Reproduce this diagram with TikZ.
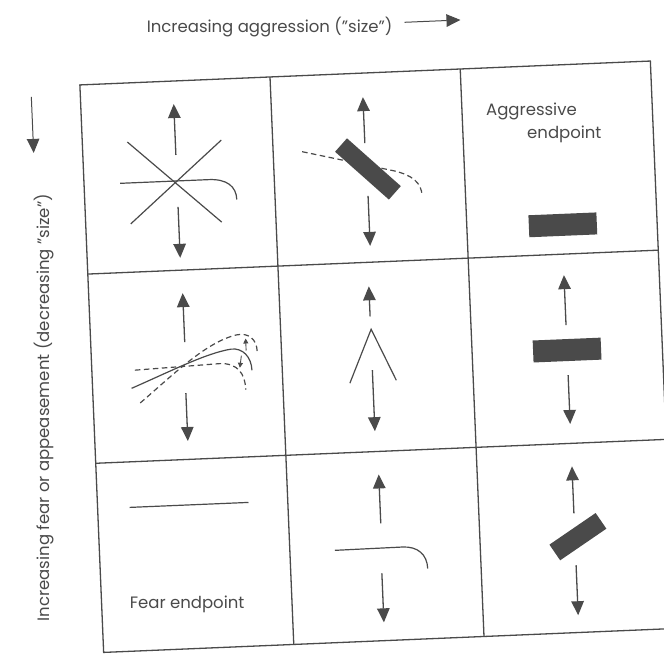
\documentclass[tikz,border=0pt]{standalone}
\usepackage{fontspec}
\setmainfont{Poppins}
\usetikzlibrary{arrows.meta}
\definecolor{ink}{HTML}{4A4A4A}
\begin{document}
\begin{tikzpicture}[x=1pt,y=-1pt,
  frame/.style={draw=ink, line width=1.3pt},
  stroke/.style={draw=ink, line width=1.2pt},
  dashline/.style={stroke, dash pattern=on 5.5pt off 3.5pt},
  bigarrow/.style={draw=ink, line width=1.3pt, -{Triangle[length=14pt,width=12.5pt]}},
  smallarrow/.style={draw=ink, line width=0.9pt, -{Triangle[length=5pt,width=5pt]}},
  block/.style={fill=ink},
  caption/.style={text=ink, inner sep=0pt, font=\fontsize{16.5}{20}\selectfont}]
\useasboundingbox (0,0) rectangle (664,657);
\clip (0,0) rectangle (664,657);
\begin{scope}[rotate around={2.4:(370,345)}]
  % axis captions
  \node[caption] (xlabel) at (283,23) {Increasing aggression ("size")};
  \coordinate (xa0) at (418,24);
  \coordinate (xa1) at (474,24);
  \draw[bigarrow, line width=1pt] (xa0) -- (xa1);
  \node[caption, rotate=90] (ylabel) at (42,394) {Increasing fear or appeasement (decreasing "size")};
  \coordinate (ya0) at (42,83);
  \coordinate (ya1) at (42,139);
  \draw[bigarrow, line width=1pt] (ya0) -- (ya1);

  % 3x3 grid
  \draw[frame] (91,73) rectangle (662,641);
  \draw[frame] (281.3,73) -- (281.3,641);
  \draw[frame] (471.7,73) -- (471.7,641);
  \draw[frame] (91,262.3) -- (662,262.3);
  \draw[frame] (91,451.7) -- (662,451.7);

  % row 1, column 1
  \begin{scope}[shift={(91,73)}]
    \draw[bigarrow] (93,74) -- (93,23);
    \draw[bigarrow] (93,126) -- (93,177);
    \draw[stroke] (45,59) -- (136,143);
    \draw[stroke] (45,141) -- (139,61);
    \draw[stroke] (36,100) -- (125,100) .. controls (143,100) and (152,108) .. (152,121);
  \end{scope}

  % row 1, column 2
  \begin{scope}[shift={(281.3,73)}]
    \draw[bigarrow] (92,70) -- (92,24);
    \draw[bigarrow] (93,123) -- (93,173);
    \draw[dashline] (29,76) -- (120,99) .. controls (138,104) and (147,112) .. (147,125);
    \fill[block, rotate around={-44:(94,96)}] (58,87) rectangle (130,105);
  \end{scope}

  % row 1, column 3
  \begin{scope}[shift={(471.7,73)}]
    \node[caption, anchor=west] (aggr) at (24,43) {Aggressive};
    \node[caption, anchor=west] (aggrend) at (64,68) {endpoint};
    \fill[block] (62,149) rectangle (130,171);
  \end{scope}

  % row 2, column 1
  \begin{scope}[shift={(91,262.3)}]
    \draw[bigarrow] (94,72) -- (94,23);
    \draw[bigarrow] (93,123) -- (93,171);
    \draw[stroke] (39,116) .. controls (80,100) and (115,84) .. (140,81)
                  .. controls (152,80) and (160,90) .. (160,103);
    \draw[dashline] (47,131) .. controls (80,105) and (115,73) .. (146,67)
                  .. controls (158,65) and (166,72) .. (166,84);
    \draw[dashline] (43,98) -- (128,95) .. controls (146,95) and (153,106) .. (153,122);
    \draw[smallarrow] (155,83) -- (155,71);
    \draw[smallarrow] (150,88) -- (148,100);
  \end{scope}

  % row 2, column 2
  \begin{scope}[shift={(281.3,262.3)}]
    \draw[bigarrow] (90,54) -- (90,24);
    \draw[bigarrow] (90,108) -- (90,169);
    \draw[stroke] (67,120) -- (90.5,67) -- (113.5,119);
  \end{scope}

  % row 2, column 3
  \begin{scope}[shift={(471.7,262.3)}]
    \draw[bigarrow] (95,71) -- (95,21);
    \fill[block] (61,85) rectangle (129,107);
    \draw[bigarrow] (95,121) -- (95,170);
  \end{scope}

  % row 3, column 1
  \begin{scope}[shift={(91,451.7)}]
    \draw[stroke] (32,45.5) -- (151,45.5);
    \node[caption, anchor=west] (fear) at (28,142) {Fear endpoint};
  \end{scope}

  % row 3, column 2
  \begin{scope}[shift={(281.3,451.7)}]
    \draw[bigarrow] (92,72) -- (92,23);
    \draw[stroke] (45,97) -- (113,96.5) .. controls (128,96.5) and (137,105) .. (137,119);
    \draw[bigarrow] (91,122) -- (91,171);
  \end{scope}

  % row 3, column 3
  \begin{scope}[shift={(471.7,451.7)}]
    \draw[bigarrow] (95,70) -- (95,23);
    \fill[block, rotate around={32:(98,93.5)}] (70,84) rectangle (126,103);
    \draw[bigarrow] (95,122) -- (95,172);
  \end{scope}
\end{scope}
\end{tikzpicture}
\end{document}
